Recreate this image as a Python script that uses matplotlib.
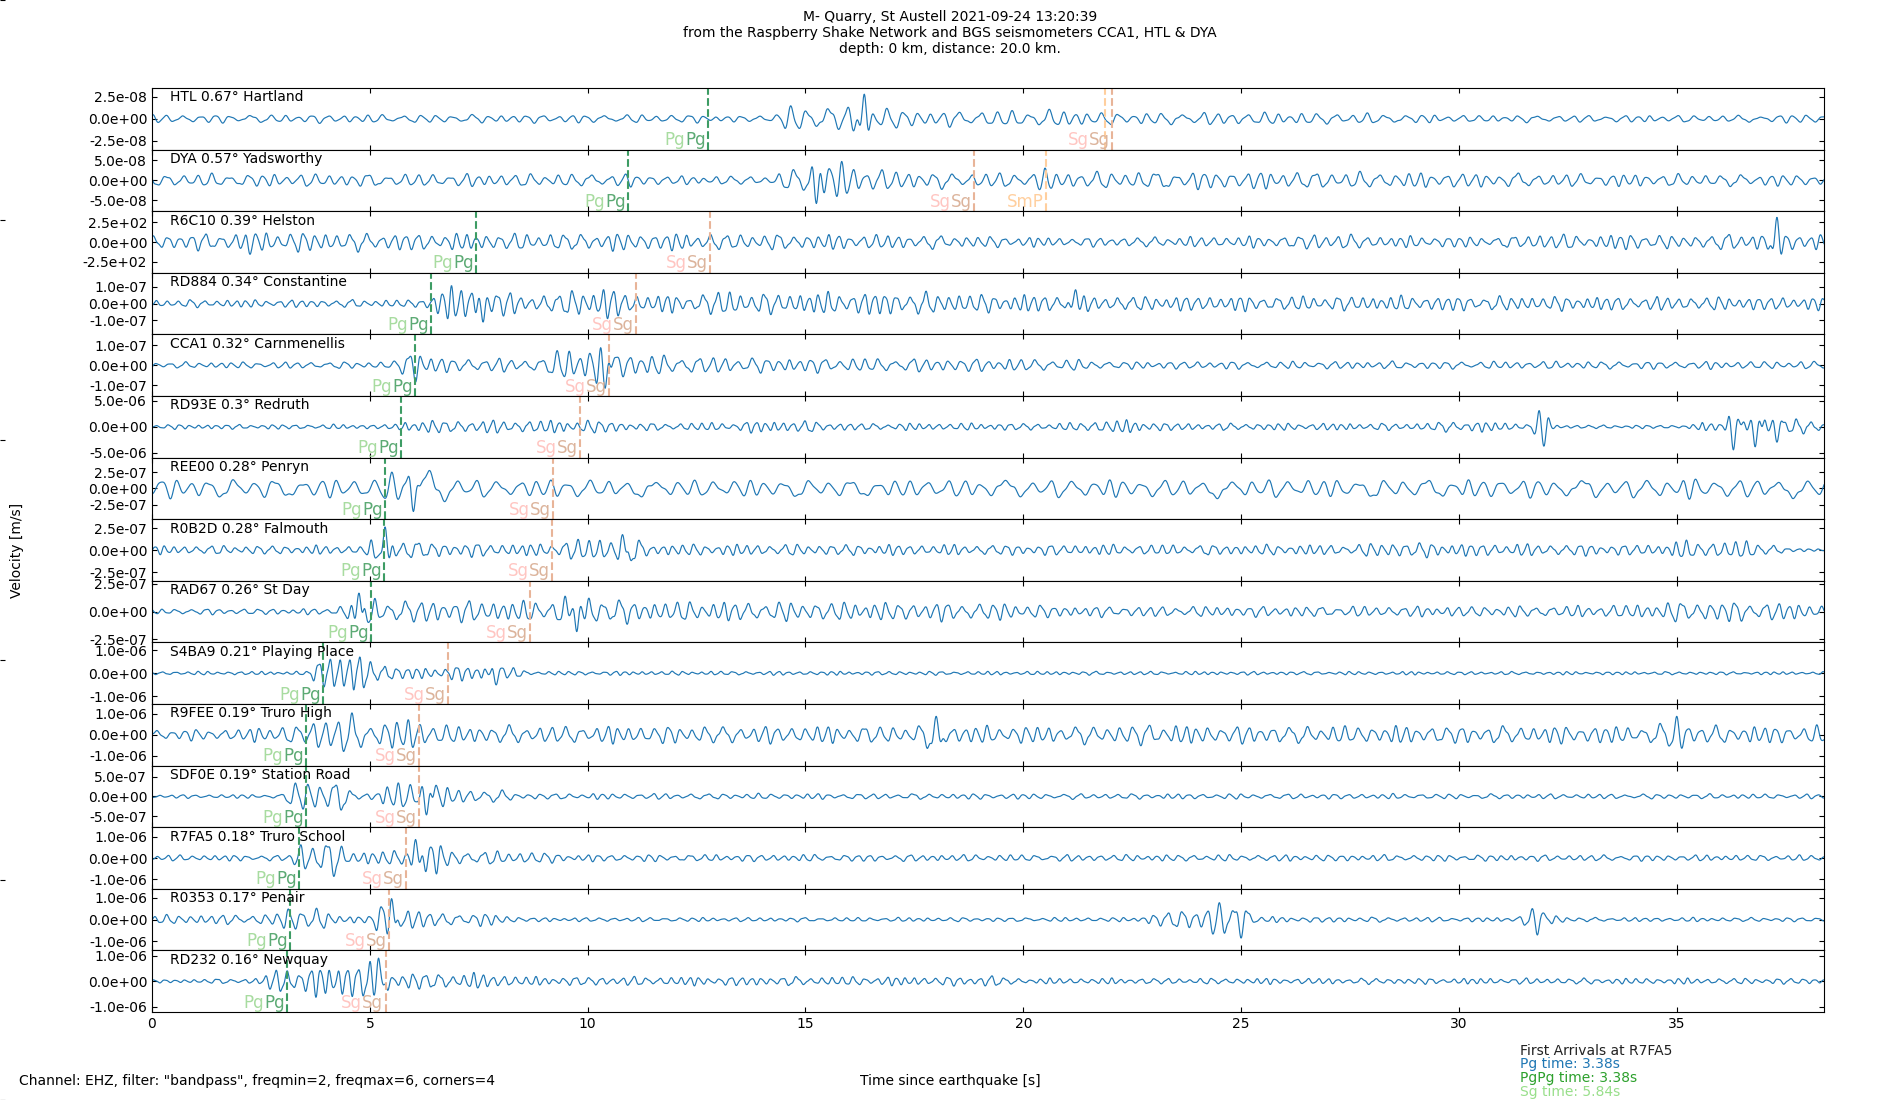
import numpy as np
import matplotlib
matplotlib.use("Agg")
import matplotlib.pyplot as plt
from matplotlib.ticker import FormatStrFormatter

# ---------------- data ----------------
stations = ["HTL", "DYA", "R6C10", "RD884", "CCA1", "RD93E", "REE00", "R0B2D",
            "RAD67", "S4BA9", "R9FEE", "SDF0E", "R7FA5", "R0353", "RD232"]
distances = ["0.67", "0.57", "0.39", "0.34", "0.32", "0.3", "0.28", "0.28",
             "0.26", "0.21", "0.19", "0.19", "0.18", "0.17", "0.16"]
places = ["Hartland", "Yadsworthy", "Helston", "Constantine", "Carnmenellis",
          "Redruth", "Penryn", "Falmouth", "St Day", "Playing Place",
          "Truro High", "Station Road", "Truro School", "Penair", "Newquay"]
pg_times = [12.76, 10.92, 7.43, 6.41, 6.04, 5.71, 5.35, 5.32, 5.03, 3.92,
            3.53, 3.53, 3.38, 3.17, 3.10]
sg_times = [22.03, 18.86, 12.81, 11.10, 10.49, 9.82, 9.21, 9.18, 8.68, 6.79,
            6.12, 6.12, 5.84, 5.45, 5.36]
extra_sg_HTL = 21.87
smp_DYA = 20.53
y_limits = [3.5e-8, 7.7e-8, 391, 1.83e-7, 1.55e-7, 5.9e-6, 4.75e-7, 3.5e-7,
            2.77e-7, 1.34e-6, 1.47e-6, 7.8e-7, 1.45e-6, 1.41e-6, 1.21e-6]
y_ticks = [2.5e-8, 5e-8, 250, 1e-7, 1e-7, 5e-6, 2.5e-7, 2.5e-7, 2.5e-7,
           1e-6, 1e-6, 5e-7, 1e-6, 1e-6, 1e-6]
dominant_freq = [2.8, 3.0, 3.5, 3.8, 3.3, 4.0, 2.2, 3.8, 3.5, 4.2, 3.3, 3.4,
                 3.6, 3.6, 4.0]
t_end = 38.38

# envelopes: (time [s], peak amplitude as a fraction of the y-limit)
env_HTL = [(0, .14), (12.7, .14), (13.2, .1), (14.2, .12), (14.5, .4), (15.5, .45),
           (16.0, .45), (17.0, .35), (18, .25), (21, .3), (22, .2), (25, .22),
           (28, .18), (30, .12), (37, .12), (38.4, .18)]
env_DYA = [(0, .22), (11, .22), (12, .15), (14.3, .15), (14.8, .5), (15.2, .72),
           (16, .6), (16.5, .4), (17.5, .3), (18.5, .25), (21, .28), (23, .3),
           (26, .3), (30, .25), (33, .22), (38.4, .2)]
env_R6C10 = [(0, .25), (2, .3), (3, .35), (5, .3), (8, .28), (11, .3), (13, .28),
             (17, .25), (19, .2), (21, .15), (26, .2), (27, .3), (28, .2), (31, .18),
             (32, .3), (33, .2), (34, .3), (35, .2), (36.5, .3), (38.4, .3)]
env_RD884 = [(0, .13), (6.2, .13), (6.5, .5), (7.4, .65), (8, .45), (8.5, .3),
             (9.3, .3), (9.6, .5), (10.7, .5), (11.2, .3), (12.5, .3), (13, .45),
             (14, .35), (17, .4), (19.5, .3), (21, .3), (22, .25), (30, .25), (38.4, .22)]
env_CCA1 = [(0, .1), (5.5, .12), (5.8, .35), (6.2, .35), (6.5, .25), (9, .22),
            (9.2, .5), (10.2, .7), (10.8, .55), (11.2, .35), (12.5, .3), (14, .25),
            (19.5, .22), (21, .2), (22, .13), (38.4, .13)]
env_RD93E = [(0, .08), (5.6, .08), (5.8, .22), (10.5, .22), (11, .12), (13.5, .15),
             (13.7, .2), (15, .2), (16, .12), (19.5, .12), (21, .12), (22, .25),
             (23.5, .12), (29, .12), (30, .2), (31, .15), (32.5, .06), (35.2, .06),
             (36, .2), (37.5, .3), (38.4, .15)]
env_REE00 = [(0, .33), (5.2, .33), (5.5, .6), (6.3, .7), (6.8, .5), (7.2, .3),
             (9, .3), (9.3, .45), (9.6, .3), (38.4, .33)]
env_R0B2D = [(0, .15), (4.8, .15), (5.1, .4), (5.5, .55), (5.8, .35), (6.5, .25),
             (9, .2), (9.5, .35), (11, .45), (11.5, .2), (19.5, .18), (27.5, .18),
             (28.5, .28), (30, .22), (34.5, .18), (35, .3), (37, .3), (37.5, .06),
             (38.4, .06)]
env_RAD67 = [(0, .1), (4.2, .1), (4.5, .45), (4.9, .55), (5.3, .4), (9, .35),
             (9.5, .55), (10.5, .5), (11, .35), (19.5, .3), (21, .18), (30, .18),
             (33, .2), (34.3, .25), (35, .35), (36.5, .35), (38.4, .25)]
env_S4BA9 = [(0, .06), (3.6, .06), (3.8, .6), (4.3, .8), (4.6, .6), (5.3, .45),
             (5.6, .2), (6.5, .2), (7, .25), (8.2, .22), (8.6, .07), (38.4, .05)]
env_R9FEE = [(0, .18), (2.2, .2), (2.5, .3), (3.5, .3), (3.8, .65), (4.5, .7),
             (5, .4), (5.5, .55), (6.3, .5), (6.8, .3), (17.5, .3), (18, .55),
             (18.4, .3), (22, .3), (23, .38), (24, .3), (34.5, .3), (35, .6),
             (35.4, .3), (38.4, .3)]
env_SDF0E = [(0, .06), (3, .07), (3.3, .6), (4.3, .55), (4.6, .15), (5.2, .15),
             (5.4, .45), (6.5, .5), (6.8, .3), (8, .2), (8.5, .1), (38.4, .08)]
env_R7FA5 = [(0, .1), (3.2, .1), (3.35, .6), (4.2, .6), (4.5, .25), (5.8, .25),
             (6.0, .55), (6.6, .55), (6.9, .25), (9, .2), (9.5, .12), (38.4, .1)]
env_R0353 = [(0, .15), (2.8, .18), (3.1, .45), (3.8, .45), (4.1, .15), (5.0, .15),
             (5.2, .55), (5.9, .6), (6.2, .25), (8, .2), (8.5, .07), (22.5, .07),
             (23, .2), (24, .45), (25, .5), (25.4, .1), (31.2, .07), (31.5, .25),
             (32.2, .25), (32.5, .07), (38.4, .07)]
env_RD232 = [(0, .05), (2.5, .1), (2.8, .45), (4.2, .5), (4.4, .7), (5.3, .75),
             (5.5, .3), (8, .25), (8.5, .15), (12, .15), (19, .15), (19.3, .25),
             (19.6, .1), (38.4, .1)]
envelopes = [env_HTL, env_DYA, env_R6C10, env_RD884, env_CCA1, env_RD93E,
             env_REE00, env_R0B2D, env_RAD67, env_S4BA9, env_R9FEE, env_SDF0E,
             env_R7FA5, env_R0353, env_RD232]

# isolated large swings: (time [s], signed amplitude as fraction of y-limit)
spikes_HTL = [(16.35, 0.8)]
spikes_DYA = [(15.25, -0.75), (20.5, 0.4)]
spikes_R6C10 = [(2.25, -0.4), (37.3, 0.8)]
spikes_RD884 = [(7.6, -0.6), (21.2, 0.45)]
spikes_CCA1 = [(6.05, -0.55), (10.4, -0.75)]
spikes_RD93E = [(31.85, 0.5), (31.95, -0.63), (36.3, -0.75), (36.8, -0.65), (37.3, -0.5)]
spikes_REE00 = [(6.0, -0.75)]
spikes_R0B2D = [(5.35, 0.75), (10.8, 0.5)]
spikes_RAD67 = [(4.75, 0.6), (9.75, -0.65)]
spikes_S4BA9 = [(7.9, -0.38)]
spikes_R9FEE = [(18.0, 0.6), (35.0, 0.6)]
spikes_SDF0E = [(6.3, -0.6)]
spikes_R7FA5 = [(6.05, 0.6)]
spikes_R0353 = [(5.5, 0.68), (24.5, 0.55), (25.0, -0.6), (31.8, -0.5)]
spikes_RD232 = [(5.2, 0.75)]
spikes = [spikes_HTL, spikes_DYA, spikes_R6C10, spikes_RD884, spikes_CCA1,
          spikes_RD93E, spikes_REE00, spikes_R0B2D, spikes_RAD67, spikes_S4BA9,
          spikes_R9FEE, spikes_SDF0E, spikes_R7FA5, spikes_R0353, spikes_RD232]

arrival_station = "R7FA5"
arrival_pg = 3.38
arrival_pgpg = 3.38
arrival_sg = 5.84

# ---------------- figure ----------------
plt.rcParams['font.family'] = ['DejaVu Sans']
fig = plt.figure(figsize=(19, 11), dpi=100)

bg = fig.add_axes([0, 0, 1, 1], frameon=False, zorder=-5)
bg.set_xticks([])
bg.set_yticks(np.arange(0, 1.01, 0.2))
bg.tick_params(axis='y', direction='in', length=3.5, labelleft=False)
bg.set_xlim(0, 1)
bg.set_ylim(0, 1)

axes = fig.subplots(len(stations), 1, sharex=True, gridspec_kw=dict(hspace=0))
fig.subplots_adjust(left=0.08, right=0.96, top=0.92, bottom=0.08)

t = np.arange(0, t_end + 0.005, 0.01)

PG_LINE = '#3d9c64'
PGPG_TXT = '#a8dca0'
PG_TXT = '#5caa74'
SG_LINE = '#e8b498'
SGSG_TXT = '#ffc6c2'
SG_TXT = '#dcb49c'
SMP_COL = '#ffcf9e'
LBL_FS = 12


def pair_label(ax, x, y, word, light, dark):
    """Right part (dark) ends at x, identical left part (light) sits just before it."""
    right = ax.text(x, y, word, color=dark, ha='right', va='bottom', fontsize=LBL_FS)
    ax.annotate(word, xy=(0, 0), xycoords=right, color=light, ha='right',
                va='bottom', fontsize=LBL_FS)


for i, ax in enumerate(axes):
    yl = y_limits[i]
    f = dominant_freq[i]
    k = 0.9 * i + 0.3
    et, ev = zip(*envelopes[i])
    env = np.interp(t, et, ev)
    phase = 1.8 * np.sin(2 * np.pi * 0.23 * t + k) + 1.1 * np.sin(2 * np.pi * 0.61 * t + 1.7 * k)
    mod = 0.7 + 0.18 * np.sin(2 * np.pi * 0.83 * t + k) + 0.12 * np.sin(2 * np.pi * 1.37 * t + 2 * k)
    carrier = np.sin(2 * np.pi * f * t + phase) + 0.22 * np.sin(2 * np.pi * 2.1 * f * t + 3 * k)
    y = env * mod * carrier / 1.1
    for ts, a in spikes[i]:
        g = np.exp(-((t - ts) / 0.12) ** 2)
        y = y * (1 - g) + a * g * np.cos(2 * np.pi * 4.0 * (t - ts))
    ax.plot(t, y * yl, color='#1f77b4', lw=0.85)

    ax.set_ylim(-yl, yl)
    ax.set_yticks([-y_ticks[i], 0, y_ticks[i]])
    ax.yaxis.set_major_formatter(FormatStrFormatter('%.1e'))
    ax.tick_params(direction='in', top=True, right=True, labelsize=10)
    ax.set_xlim(0, t_end)
    ax.set_xticks([0, 5, 10, 15, 20, 25, 30, 35])

    ax.text(0.0105, 0.96, f"{stations[i]} {distances[i]}\u00b0 {places[i]}",
            transform=ax.transAxes, va='top', ha='left', fontsize=10)

    ybase = -yl * 0.99
    # Pg / PgPg marker
    pg = pg_times[i]
    ax.axvline(pg, color=PG_LINE, ls='--', lw=1.5)
    pair_label(ax, pg - 0.05, ybase, "Pg", PGPG_TXT, PG_TXT)

    # Sg / SgSg marker
    sg = sg_times[i]
    if i == 0:
        ax.axvline(extra_sg_HTL, color=SMP_COL, ls='--', lw=1.5)
    ax.axvline(sg, color=SG_LINE, ls='--', lw=1.5)
    pair_label(ax, sg - 0.05, ybase, "Sg", SGSG_TXT, SG_TXT)
    if i == 1:
        ax.axvline(smp_DYA, color=SMP_COL, ls='--', lw=1.5)
        ax.text(smp_DYA - 0.05, ybase, "SmP", color=SMP_COL,
                ha='right', va='bottom', fontsize=LBL_FS)

for ax in axes[:-1]:
    ax.tick_params(labelbottom=False)

fig.suptitle("M- Quarry, St Austell 2021-09-24 13:20:39\n"
             "from the Raspberry Shake Network and BGS seismometers CCA1, HTL & DYA\n"
             "depth: 0 km, distance: 20.0 km.", y=0.991, fontsize=10, va='top')
fig.text(0.009, 0.5, "Velocity [m/s]", rotation=90, ha='center', va='center', fontsize=10)
fig.text(0.5, 0.017, "Time since earthquake [s]", ha='center', va='center', fontsize=10)
fig.text(0.01, 0.017, 'Channel: EHZ, filter: "bandpass", freqmin=2, freqmax=6, corners=4',
         ha='left', va='center', fontsize=10)

fig.text(0.8, 0.0448, f"First Arrivals at {arrival_station}", color='#222222',
         ha='left', va='center', fontsize=10)
fig.text(0.8, 0.0325, f"Pg time: {arrival_pg:.2f}s", color='#1f77b4',
         ha='left', va='center', fontsize=10)
fig.text(0.8, 0.0197, f"PgPg time: {arrival_pgpg:.2f}s", color='#2ca02c',
         ha='left', va='center', fontsize=10)
fig.text(0.8, 0.0070, f"Sg time: {arrival_sg:.2f}s", color='#98df8a',
         ha='left', va='center', fontsize=10)

fig.savefig("out.png", dpi=100)
